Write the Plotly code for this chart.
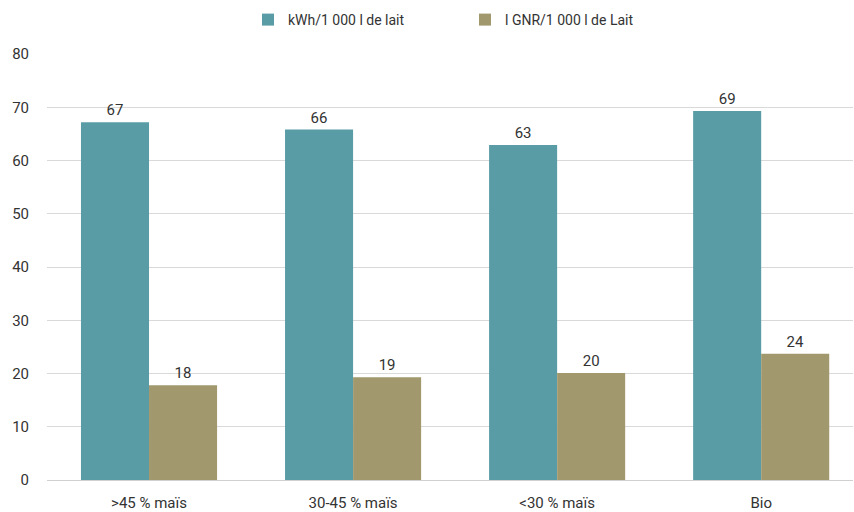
import plotly.graph_objects as go

categories = [">45 % maïs", "30-45 % maïs", "<30 % maïs", "Bio"]
kwh_values = [67.2, 65.8, 62.9, 69.3]
gnr_values = [17.8, 19.3, 20.1, 23.7]
kwh_labels = ["67", "66", "63", "69"]
gnr_labels = ["18", "19", "20", "24"]
series_names = ["kWh/1 000 l de lait", "l GNR/1 000 l de Lait"]

FONT = "Roboto, Arial"
TXT = "#333333"

fig = go.Figure()
fig.add_trace(go.Bar(
    x=categories, y=kwh_values, name=series_names[0],
    marker=dict(color="#599ca6", line=dict(width=0)),
    text=kwh_labels, textposition="outside", cliponaxis=False,
    textfont=dict(family=FONT, size=15, color=TXT),
))
fig.add_trace(go.Bar(
    x=categories, y=gnr_values, name=series_names[1],
    marker=dict(color="#a2986d", line=dict(width=0)),
    text=gnr_labels, textposition="outside", cliponaxis=False,
    textfont=dict(family=FONT, size=15, color=TXT),
))

fig.update_layout(
    width=854, height=512,
    margin=dict(l=47, r=1, t=54, b=32, autoexpand=False),
    paper_bgcolor="white", plot_bgcolor="white",
    barmode="group", bargap=0.333, bargroupgap=0,
    font=dict(family=FONT, size=15, color=TXT),
    legend=dict(orientation="h", xref="container", x=248 / 854, xanchor="left",
                yref="container", y=1 - 20 / 512, yanchor="middle",
                font=dict(family=FONT, size=14, color=TXT),
                itemwidth=30, entrywidth=172, entrywidthmode="pixels",
                traceorder="normal"),
    xaxis=dict(range=[-0.5, 3.45], showgrid=False, showline=False, ticks="",
               ticklabelstandoff=12, tickfont=dict(family=FONT, size=15, color=TXT)),
    yaxis=dict(range=[0, 80], dtick=10, showgrid=True, gridcolor="#d9d9d9", gridwidth=1,
               zeroline=True, zerolinecolor="#d0d0d0", zerolinewidth=1,
               showline=False, ticks="", ticklabelstandoff=17,
               tickfont=dict(family=FONT, size=15, color=TXT)),
    showlegend=True,
)

fig.write_html("out.html")
